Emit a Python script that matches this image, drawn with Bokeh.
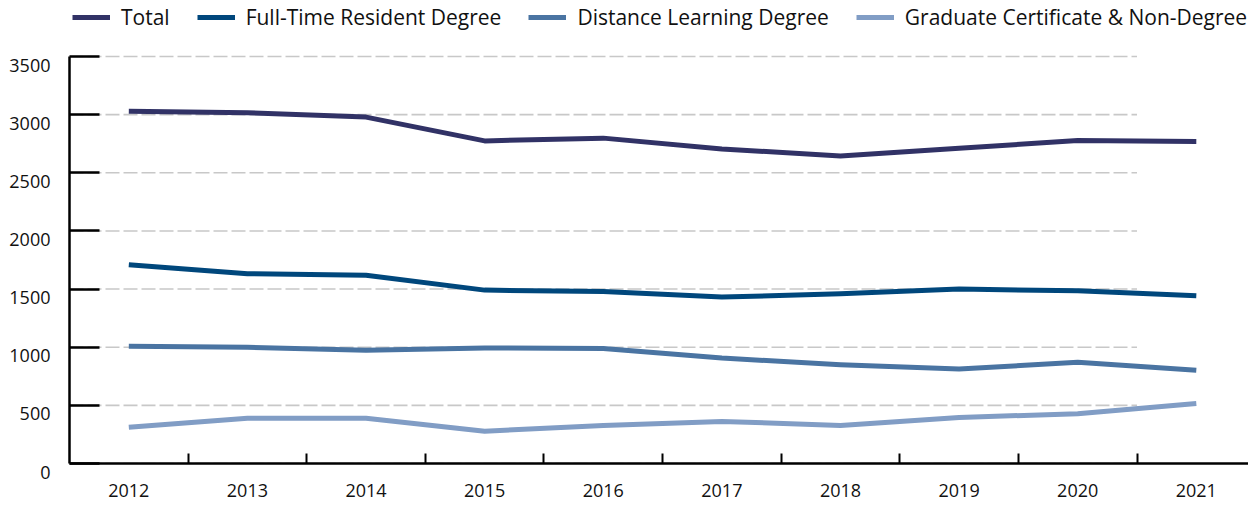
from bokeh.plotting import figure
from bokeh.models import (Range1d, FixedTicker, Legend, LegendItem, ColumnDataSource)
from bokeh.embed import file_html
from bokeh.resources import INLINE

years = [2012, 2013, 2014, 2015, 2016, 2017, 2018, 2019, 2020, 2021]
total = [3029, 3017, 2979, 2774, 2798, 2705, 2644, 2711, 2777, 2768]
full_time = [1710, 1632, 1618, 1491, 1479, 1431, 1459, 1500, 1485, 1442]
distance = [1009, 1000, 974, 994, 988, 907, 850, 812, 870, 801]
graduate = [312, 390, 390, 278, 327, 362, 327, 396, 428, 515]

series_names = ["Total", "Full-Time Resident Degree", "Distance Learning Degree",
                "Graduate Certificate & Non-Degree"]
series_values = [total, full_time, distance, graduate]
series_colors = ["#313266", "#00477c", "#4a74a2", "#819dc5"]

y_ticks = [0, 500, 1000, 1500, 2000, 2500, 3000, 3500]

FONT = "Open Sans"
Y_MAX = 3500
PX_PER_UNIT = 407 / 3500          # axis scale in the reference
FRAME_H = 463                     # frame runs up to the top of the picture (legend lives there)
Y_TOP = FRAME_H / PX_PER_UNIT

p = figure(width=1248, height=508, output_backend="svg", toolbar_location=None,
           x_range=Range1d(2011.5, 2021.44), y_range=Range1d(0, Y_TOP),
           min_border_left=69, min_border_right=0, min_border_top=0, min_border_bottom=45)
p.outline_line_color = None
p.background_fill_color = "white"
p.border_fill_color = "white"
p.xgrid.visible = False
p.ygrid.visible = False

# dashed gridlines ending at the last category boundary
grid_src = ColumnDataSource(dict(y=y_ticks, x0=[years[0] - 0.5] * len(y_ticks),
                                 x1=[years[-1] - 0.5] * len(y_ticks)))
p.segment(x0="x0", x1="x1", y0="y", y1="y", source=grid_src,
          line_color="#c8c8c8", line_width=1.6, line_dash="14 4")

renderers = []
for name, vals, col in zip(series_names, series_values, series_colors):
    r = p.line(years, vals, line_color=col, line_width=5, line_cap="butt", line_join="round")
    renderers.append((name, r))

# x axis
xa = p.xaxis[0]
xa.ticker = FixedTicker(ticks=years, minor_ticks=[y + 0.5 for y in years[:-1]])
xa.major_tick_in = 0
xa.major_tick_out = 0
xa.minor_tick_in = 10
xa.minor_tick_out = 0
xa.minor_tick_line_color = "black"
xa.minor_tick_line_width = 2
xa.axis_line_color = "black"
xa.axis_line_width = 2.5
xa.major_label_text_font = FONT
xa.major_label_text_font_size = "18px"
xa.major_label_text_color = "#111111"
xa.major_label_standoff = 20

# y axis (line stops at 3500; labels pushed a little below their ticks)
ya = p.yaxis[0]
ya.ticker = FixedTicker(ticks=y_ticks)
ya.bounds = (0, Y_MAX)
ya.major_tick_in = 30
ya.major_tick_out = 0
ya.major_tick_line_color = "black"
ya.major_tick_line_width = 2.5
ya.minor_tick_line_color = None
ya.axis_line_color = "black"
ya.axis_line_width = 2.5
ya.major_label_overrides = {t: "\n" + str(t) for t in y_ticks}
ya.major_label_text_line_height = 0.67
ya.major_label_standoff = 19
ya.major_label_text_font = FONT
ya.major_label_text_font_size = "18px"
ya.major_label_text_color = "#111111"

legend = Legend(items=[LegendItem(label=n, renderers=[r]) for n, r in renderers],
                location=(3, 432), orientation="horizontal")
legend.label_text_font = FONT
legend.label_text_font_size = "21px"
legend.label_text_color = "#111111"
legend.glyph_width = 38
legend.glyph_height = 20
legend.label_height = 20
legend.label_standoff = 11
legend.spacing = 27
legend.padding = 0
legend.margin = 0
legend.border_line_color = None
legend.background_fill_alpha = 0
p.add_layout(legend, "center")

open("out.html", "w").write(file_html(p, INLINE))
